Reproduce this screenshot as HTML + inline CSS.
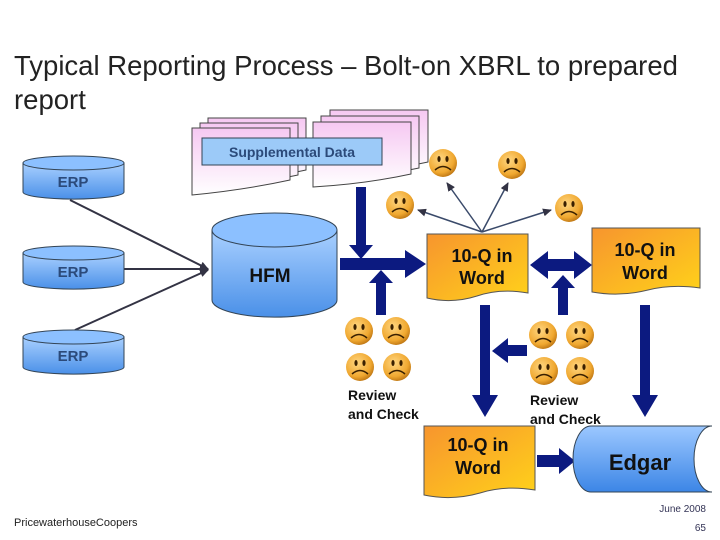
<!DOCTYPE html>
<html><head><meta charset="utf-8"><style>
body{margin:0;background:#fff}
svg{display:block;font-family:"Liberation Sans",Arial,sans-serif}
</style></head><body>
<svg width="720" height="540" viewBox="0 0 720 540" xmlns="http://www.w3.org/2000/svg">
<defs>
<linearGradient id="cyl" x1="0" y1="0" x2="0" y2="1"><stop offset="0" stop-color="#a9d0ff"/><stop offset="1" stop-color="#4a90e8"/></linearGradient>
<linearGradient id="cylh" x1="0" y1="0" x2="0" y2="1"><stop offset="0" stop-color="#9cc8ff"/><stop offset="1" stop-color="#3c86e6"/></linearGradient>
<linearGradient id="org" x1="0" y1="0" x2="1" y2="1"><stop offset="0" stop-color="#f7952e"/><stop offset="1" stop-color="#ffd21a"/></linearGradient>
<linearGradient id="pink" x1="0" y1="0" x2="0" y2="1"><stop offset="0" stop-color="#f6c8f2"/><stop offset="1" stop-color="#ffffff"/></linearGradient>
<radialGradient id="face" cx="0.4" cy="0.35" r="0.7"><stop offset="0" stop-color="#ffd680"/><stop offset="0.7" stop-color="#f0a830"/><stop offset="1" stop-color="#b87010"/></radialGradient>
<g id="sad"><circle r="14" fill="url(#face)"/><ellipse cx="-4" cy="-4" rx="1.6" ry="3" fill="#3a2000"/><ellipse cx="4" cy="-4" rx="1.6" ry="3" fill="#3a2000"/><path d="M-8 7 Q0 0 8 7" stroke="#3a2000" stroke-width="1.5" fill="none"/></g>
<marker id="ah" markerUnits="userSpaceOnUse" markerWidth="9" markerHeight="8" refX="8" refY="4" orient="auto"><path d="M0 0 L9 4 L0 8 z" fill="#334"/></marker>
</defs>

<text x="14" y="75" font-size="27.5" fill="#222">Typical Reporting Process – Bolt-on XBRL to prepared</text>
<text x="14" y="109" font-size="27.5" fill="#222">report</text>

<g stroke="#444" stroke-width="1" fill="url(#pink)">
<path d="M208 118 H306 V170 Q260 180 208 185 Z"/>
<path d="M200 123 H298 V175 Q252 185 200 190 Z"/>
<path d="M192 128 H290 V180 Q244 190 192 195 Z"/>
<path d="M330 110 H428 V162 Q382 172 330 175 Z"/>
<path d="M321 116 H419 V168 Q373 178 321 181 Z"/>
<path d="M313 122 H411 V174 Q365 184 313 187 Z"/>
</g>
<rect x="202" y="138" width="180" height="27" fill="#9ccaf8" stroke="#345"/>
<text x="292" y="157" font-size="14" font-weight="bold" fill="#2b4a7a" text-anchor="middle">Supplemental Data</text>

<g stroke="#334" stroke-width="2" fill="none">
<line x1="70" y1="200" x2="208" y2="269" marker-end="url(#ah)"/>
<line x1="124" y1="269" x2="208" y2="269" marker-end="url(#ah)"/>
<line x1="75" y1="330" x2="208" y2="270" marker-end="url(#ah)"/>
</g>
<g stroke="#345" stroke-width="1">
<path d="M23 163 V192 A50 7 0 0 0 124 192 V163 Z" fill="url(#cyl)"/><ellipse cx="73.5" cy="163" rx="50.5" ry="7" fill="#8cc0ff"/>
<path d="M23 253 V282 A50 7 0 0 0 124 282 V253 Z" fill="url(#cyl)"/><ellipse cx="73.5" cy="253" rx="50.5" ry="7" fill="#8cc0ff"/>
<path d="M23 337 V367 A50 7 0 0 0 124 367 V337 Z" fill="url(#cyl)"/><ellipse cx="73.5" cy="337" rx="50.5" ry="7" fill="#8cc0ff"/>
</g>
<g font-size="15" font-weight="bold" fill="#2b4a7a" text-anchor="middle">
<text x="73" y="187">ERP</text><text x="73" y="277">ERP</text><text x="73" y="361">ERP</text></g>

<path d="M212 230 V300 A62 17 0 0 0 337 300 V230 Z" fill="url(#cyl)" stroke="#345"/>
<ellipse cx="274.5" cy="230" rx="62.5" ry="17" fill="#8cc0ff" stroke="#345"/>
<text x="270" y="282" font-size="19" font-weight="bold" fill="#111" text-anchor="middle">HFM</text>

<g stroke="#3a4a6a" stroke-width="1.5" fill="none">
<line x1="482" y1="232" x2="447" y2="183" marker-end="url(#ah)"/>
<line x1="482" y1="232" x2="508" y2="183" marker-end="url(#ah)"/>
<line x1="482" y1="232" x2="418" y2="210" marker-end="url(#ah)"/>
<line x1="482" y1="232" x2="551" y2="210" marker-end="url(#ah)"/>
</g>

<g fill="#0c1a80">
<path d="M356 187 H366 V245 H373 L361 259 L349 245 H356 Z"/>
<path d="M340 258 H405 V250 L426 264 L405 278 V270 H340 Z"/>
<path d="M376 315 V283 H369 L381 270 L393 283 H386 V315 Z"/>
<path d="M548 259 V251 L530 265 L548 279 V271 H574 V279 L592 265 L574 251 V259 Z"/>
<path d="M558 315 V288 H551 L563 275 L575 288 H568 V315 Z"/>
<path d="M480 305 H490 V395 H498 L485 417 L472 395 H480 Z"/>
<path d="M527 345 H508 V338 L492 351 L508 363 V356 H527 Z"/>
<path d="M640 305 H650 V395 H658 L645 417 L632 395 H640 Z"/>
<path d="M537 455 H559 V448 L575 461 L559 474 V467 H537 Z"/>
</g>

<g stroke="#555" stroke-width="1" fill="url(#org)">
<path d="M427 234 H528 V293 Q500 288 477 296 Q452 304 427 298 Z"/>
<path d="M592 228 H700 V288 Q672 284 648 290 Q620 297 592 292 Z"/>
<path d="M424 426 H535 V490 Q505 485 480 493 Q452 501 424 495 Z"/>
</g>
<g font-size="18" font-weight="bold" fill="#111" text-anchor="middle">
<text x="482" y="262">10-Q in</text><text x="482" y="284">Word</text>
<text x="645" y="256">10-Q in</text><text x="645" y="279">Word</text>
<text x="478" y="451">10-Q in</text><text x="478" y="474">Word</text>
</g>

<path d="M591 426 H712 A18 33 0 0 0 712 492 H591 A18 33 0 0 1 591 426 Z" fill="url(#cylh)" stroke="#345"/>
<text x="640" y="470" font-size="22" font-weight="bold" fill="#111" text-anchor="middle">Edgar</text>

<use href="#sad" x="443" y="163"/><use href="#sad" x="512" y="165"/>
<use href="#sad" x="400" y="205"/><use href="#sad" x="569" y="208"/>
<use href="#sad" x="359" y="331"/><use href="#sad" x="396" y="331"/>
<use href="#sad" x="360" y="367"/><use href="#sad" x="397" y="367"/>
<use href="#sad" x="543" y="335"/><use href="#sad" x="580" y="335"/>
<use href="#sad" x="544" y="371"/><use href="#sad" x="580" y="371"/>

<g font-size="14" font-weight="bold" fill="#111">
<text x="348" y="400">Review</text><text x="348" y="419">and Check</text>
<text x="530" y="405">Review</text><text x="530" y="424">and Check</text>
</g>

<text x="14" y="526" font-size="11" fill="#222">PricewaterhouseCoopers</text>
<text x="706" y="512" font-size="10" fill="#335" text-anchor="end">June 2008</text>
<text x="706" y="531" font-size="10" fill="#335" text-anchor="end">65</text>
</svg>
</body></html>
